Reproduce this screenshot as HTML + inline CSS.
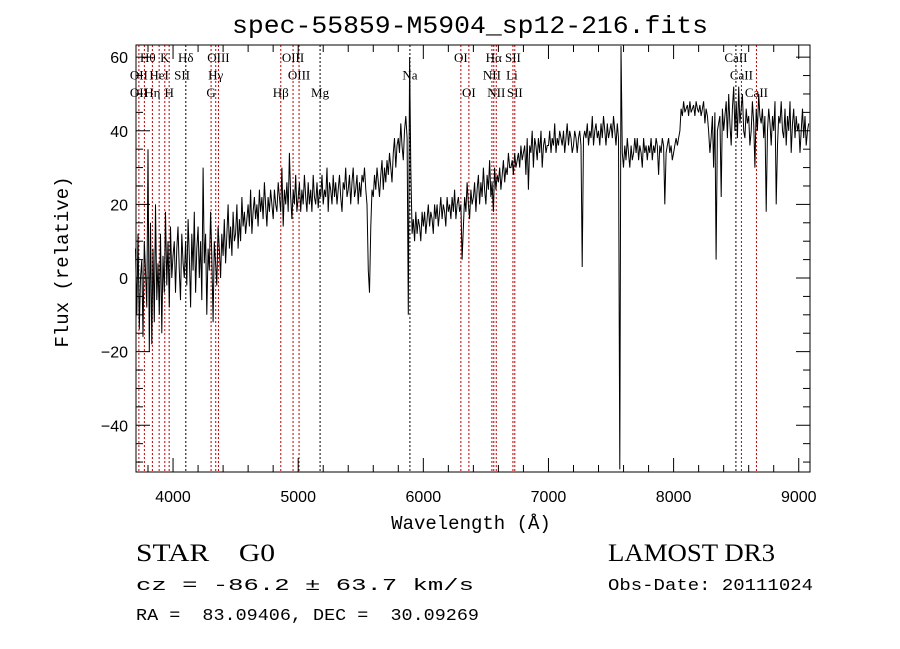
<!DOCTYPE html>
<html><head><meta charset="utf-8"><style>
body{margin:0;background:#fff;width:900px;height:649px;overflow:hidden}
svg{display:block}
.t{font-family:"Liberation Mono",monospace;fill:#000}
.s{font-family:"Liberation Sans",sans-serif;fill:#000}
.r{font-family:"Liberation Serif",serif;fill:#000}
</style></head><body>
<svg id="chart" width="900" height="649" viewBox="0 0 900 649" xmlns="http://www.w3.org/2000/svg">
<text class="t" x="232" y="33" font-size="25" textLength="476" lengthAdjust="spacingAndGlyphs">spec-55859-M5904_sp12-216.fits</text>
<g id="lines"></g>
<g id="ticks"></g>
<path id="spec" fill="none" stroke="#000" stroke-width="1"/>
<rect x="136" y="45" width="674" height="427" fill="none" stroke="#000" stroke-width="1"/>
<text class="t" x="471" y="529" font-size="19" text-anchor="middle">Wavelength (Å)</text>
<text class="t" x="0" y="0" font-size="19" text-anchor="middle" transform="translate(68,262) rotate(-90)">Flux (relative)</text>
<text class="r" x="136" y="561" font-size="25" textLength="139" lengthAdjust="spacingAndGlyphs" xml:space="preserve">STAR    G0</text>
<text class="r" x="608" y="561" font-size="25" textLength="167" lengthAdjust="spacingAndGlyphs">LAMOST DR3</text>
<text class="t" x="136" y="590" font-size="17" textLength="338" lengthAdjust="spacingAndGlyphs">cz = -86.2 ± 63.7 km/s</text>
<text class="t" x="608" y="590" font-size="17" textLength="205" lengthAdjust="spacingAndGlyphs">Obs-Date: 20111024</text>
<text class="t" x="136" y="620" font-size="17" textLength="343" lengthAdjust="spacingAndGlyphs" xml:space="preserve">RA =  83.09406, DEC =  30.09269</text>
</svg>
<script>
const lamStart = 3700;
const lamStep = 10;
const flux = [
8,-10,12,-14,0,5,-16,10,2,-8,
35,-20,15,-18,8,-12,20,-6,4,-10,
12,-15,6,-4,18,-2,10,-8,14,0,
6,10,-4,8,14,2,-6,12,4,0,
10,-2,16,6,-8,12,2,18,-4,8,
14,0,10,-6,30,4,12,-10,8,2,
18,6,-12,10,4,-2,14,8,0,12,
6,16,4,12,20,8,14,6,18,10,
12,20,8,16,10,22,14,18,12,16,
20,14,24,12,18,22,16,20,14,24,
18,22,16,26,20,14,22,18,24,20,
16,24,20,18,26,22,18,30,14,24,
20,26,18,34,22,16,24,20,28,18,
22,26,18,24,20,28,22,18,26,20,
24,18,28,22,20,26,19,24,22,28,
20,24,22,30,18,26,24,20,28,22,
26,20,24,28,22,18,26,24,30,22,
24,28,20,26,30,22,24,28,20,26,
22,28,26,30,24,20,2,-4,14,24,
22,28,24,30,26,22,28,32,24,30,
26,32,28,34,30,26,34,38,30,36,
38,34,42,36,32,40,44,38,-10,60,
30,12,16,10,18,12,16,14,10,18,
14,18,12,16,20,14,18,16,12,20,
16,20,14,18,22,16,20,18,14,22,
18,20,16,22,18,24,16,20,22,18,
20,5,14,22,18,26,20,16,24,20,
22,26,18,24,28,20,26,22,30,24,
20,28,24,32,22,26,18,30,24,28,
26,30,24,28,32,26,30,28,34,30,
30,32,28,34,30,32,34,30,36,32,
34,36,28,38,24,36,34,40,30,38,
36,32,38,34,40,30,36,38,34,36,
36,40,34,38,36,42,34,38,36,40,
38,36,40,34,38,42,36,40,38,34,
36,40,38,34,38,40,36,3,38,40,
38,42,36,40,38,44,36,40,42,38,
40,36,42,38,44,40,36,42,38,40,
42,38,44,40,36,42,38,-52,63,34,
30,36,32,38,34,30,36,32,34,38,
34,38,32,36,34,30,38,34,36,32,
36,34,38,32,36,34,38,36,28,36,
34,38,36,20,34,36,38,34,36,32,
34,36,38,36,38,40,46,44,48,45,
46,47,44,48,45,46,47,44,48,46,
45,47,44,46,48,42,46,44,40,34,
38,44,30,45,5,40,42,44,22,46,
40,44,48,38,50,42,36,46,52,40,
48,38,52,42,46,50,40,38,46,42,
44,36,40,48,42,30,46,40,50,44,
42,46,38,44,18,40,46,42,36,44,
40,48,20,36,44,42,48,40,38,46,
36,44,40,48,34,42,46,38,44,40,
42,34,40,46,38,44,36,40,42];
const lineWave = [3727,3771,3835,3889,3934,3969,4102,4304,4341,4363,4861,4959,5007,5175,5893,6300,6364,6548,6563,6583,6716,6731,8498,8542,8662];
const lineBlack = [0,0,0,0,0,0,1,0,0,0,0,0,0,1,1,0,0,0,0,0,0,0,1,0,0];
const labelText = ["Hθ","K","Hδ","OIII","OIII","OI","Hα","SII","CaII","OII","HeI","SII","Hγ","OIII","Na","NII","Li","CaII","OII","Hη","H","G","Hβ","Mg","OI","NII","SII","CaII"];
const labelWave = [3798,3934,4102,4363,4959,6300,6563,6716,8498,3727,3889,4072,4341,5007,5893,6548,6708,8542,3727,3835,3969,4304,4861,5175,6364,6583,6731,8662];
const labelRow = [0,0,0,0,0,0,0,0,0,1,1,1,1,1,1,1,1,1,2,2,2,2,2,2,2,2,2,2];
const xTicks = [4000,5000,6000,7000,8000,9000];
const yTicks = [-40,-20,0,20,40,60];

const X0=136,X1=810,Y0=45,Y1=472;
const LMIN=3704, LMAX=9090, FMIN=-52.7, FMAX=63.3;
const xs = l => X0 + (l-LMIN)/(LMAX-LMIN)*(X1-X0);
const ys = f => Y1 - (Math.max(FMIN,Math.min(FMAX,f))-FMIN)/(FMAX-FMIN)*(Y1-Y0);
const NS="http://www.w3.org/2000/svg";
function mk(tag,attrs,parent){const e=document.createElementNS(NS,tag);for(const k in attrs)e.setAttribute(k,attrs[k]);parent.appendChild(e);return e;}

let d="";
flux.forEach((f,i)=>{const l=lamStart+i*lamStep;d+=(i?"L":"M")+xs(l).toFixed(1)+" "+ys(f).toFixed(1);});
document.getElementById("spec").setAttribute("d",d);

const lg=document.getElementById("lines");
lineWave.forEach((w,i)=>{
  const ln=mk("line",{x1:xs(w),x2:xs(w),y1:Y0,y2:Y1,stroke:lineBlack[i]?"#000":"#c00000","stroke-width":1,"stroke-dasharray":"2,2"},lg);
  
  
});
labelText.forEach((t,i)=>{
  const tx=mk("text",{x:xs(labelWave[i]),y:62+labelRow[i]*17.5,"text-anchor":"middle","font-size":13,"class":"r"},lg);
  tx.textContent=t;
  
  
});

const tg=document.getElementById("ticks");
for(let l=3800;l<=9000;l+=200){
  const maj=l%1000===0, h=maj?14:7;
  mk("line",{x1:xs(l),x2:xs(l),y1:Y1,y2:Y1-h,stroke:"#000"},tg);
  mk("line",{x1:xs(l),x2:xs(l),y1:Y0,y2:Y0+h,stroke:"#000"},tg);
}
xTicks.forEach(v=>{
  const t=mk("text",{x:xs(v),y:502,"text-anchor":"middle","font-size":16,"class":"s"},tg);
  t.textContent=v;
  
  
});
for(let f=-50;f<=60;f+=5){
  const maj=f%20===0, w=maj?14:7;
  mk("line",{x1:X0,x2:X0+w,y1:ys(f),y2:ys(f),stroke:"#000"},tg);
  mk("line",{x1:X1,x2:X1-w,y1:ys(f),y2:ys(f),stroke:"#000"},tg);
}
yTicks.forEach(v=>{
  const t=mk("text",{x:128,y:ys(v)+6,"text-anchor":"end","font-size":16,"class":"s"},tg);
  t.textContent=v<0?"\u2212"+(-v):v;
  
  
});
</script>
</body></html>
